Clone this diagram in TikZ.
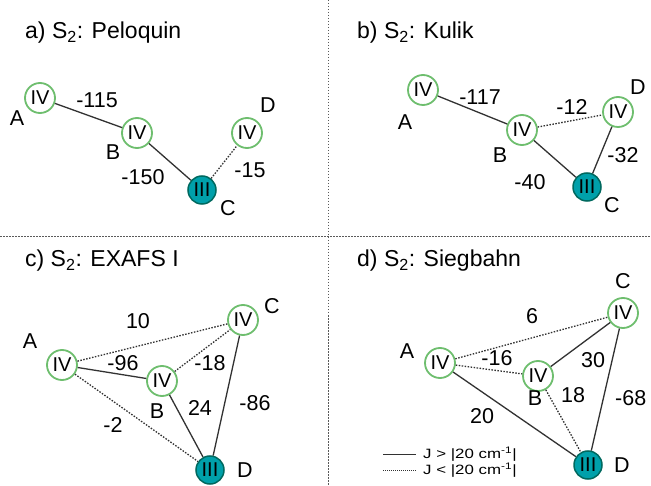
\documentclass[tikz,border=0pt]{standalone}
\usepackage{fontspec}
\setmainfont{Liberation Sans}
\definecolor{ringgreen}{RGB}{110,190,110}
\definecolor{tealfill}{RGB}{0,160,170}
\definecolor{tealdark}{RGB}{0,105,95}
\definecolor{linegray}{RGB}{50,50,50}
\definecolor{sepgray}{RGB}{90,90,90}
\begin{document}
\begin{tikzpicture}[x=1pt,y=-1pt,
  fiv/.style={circle,draw=ringgreen,line width=1.8pt,fill=white,minimum size=30pt,inner sep=0pt,font=\fontsize{20}{22}\selectfont},
  fiii/.style={circle,draw=tealdark,line width=1.5pt,fill=tealfill,minimum size=28pt,inner sep=0pt,font=\fontsize{20}{22}\selectfont},
  lbl/.style={font=\fontsize{21.5}{25}\selectfont,inner sep=0pt},
  ttl/.style={font=\fontsize{23}{27}\selectfont,anchor=west,inner sep=0pt},
  leg/.style={font=\fontsize{13.5}{15}\selectfont,anchor=west,inner sep=0pt},
  strong/.style={line width=1.3pt,draw=linegray},
  weak/.style={line width=1.3pt,draw=linegray,dash pattern=on 1.5pt off 1.5pt},
  sepline/.style={line width=1pt,draw=sepgray,dash pattern=on 1.5pt off 1.5pt}]
\useasboundingbox[fill=white] (0,0) rectangle (651,486);
% separators
\coordinate (vt) at (328,0); \coordinate (vb) at (328,486);
\coordinate (hl) at (0,237); \coordinate (hr) at (651,237);
\draw[sepline] (vt) -- (vb);
\draw[sepline] (hl) -- (hr);

% ---------- panel a ----------
\node[ttl] (ta) at (25,33) {a) S\textsubscript{2}: Peloquin};
\node[fiv] (aA) at (40,98) {IV};
\node[fiv] (aB) at (137,133) {IV};
\node[fiv] (aD) at (247,133) {IV};
\node[fiii] (aC) at (202,190) {III};
\node[lbl] (aAl) at (17,118) {A};
\node[lbl] (aBl) at (113,152) {B};
\node[lbl] (aDl) at (268,105) {D};
\node[lbl] (aCl) at (228,208) {C};
\draw[strong] (aA) -- (aB);
\draw[strong] (aB) -- (aC);
\draw[weak] (aC) -- (aD);
\node[lbl] (aj1) at (97,100) {-115};
\node[lbl] (aj2) at (143,177) {-150};
\node[lbl] (aj3) at (250,170) {-15};

% ---------- panel b ----------
\node[ttl] (tb) at (357,33) {b) S\textsubscript{2}: Kulik};
\node[fiv] (bA) at (423,90) {IV};
\node[fiv] (bB) at (522,130) {IV};
\node[fiv] (bD) at (618,112) {IV};
\node[fiii] (bC) at (587,187) {III};
\node[lbl] (bAl) at (405,122) {A};
\node[lbl] (bBl) at (500,155) {B};
\node[lbl] (bDl) at (638,87) {D};
\node[lbl] (bCl) at (612,205) {C};
\draw[strong] (bA) -- (bB);
\draw[weak] (bB) -- (bD);
\draw[strong] (bB) -- (bC);
\draw[strong] (bD) -- (bC);
\node[lbl] (bj1) at (480,97) {-117};
\node[lbl] (bj2) at (572,107) {-12};
\node[lbl] (bj3) at (623,155) {-32};
\node[lbl] (bj4) at (530,182) {-40};

% ---------- panel c ----------
\node[ttl] (tc) at (25,261) {c) S\textsubscript{2}: EXAFS I};
\node[fiv] (cA) at (62,365) {IV};
\node[fiv] (cB) at (162,381) {IV};
\node[fiv] (cC) at (243,320) {IV};
\node[fiii] (cD) at (210,470) {III};
\node[lbl] (cAl) at (30,341) {A};
\node[lbl] (cBl) at (157,411) {B};
\node[lbl] (cCl) at (272,306) {C};
\node[lbl] (cDl) at (245,470) {D};
\draw[weak] (cA) -- (cC);
\draw[strong] (cA) -- (cB);
\draw[weak] (cB) -- (cC);
\draw[weak] (cA) -- (cD);
\draw[strong] (cB) -- (cD);
\draw[strong] (cC) -- (cD);
\node[lbl] (cj1) at (138,321) {10};
\node[lbl] (cj2) at (123,363) {-96};
\node[lbl] (cj3) at (210,363) {-18};
\node[lbl] (cj4) at (200,408) {24};
\node[lbl] (cj5) at (255,403) {-86};
\node[lbl] (cj6) at (113,425) {-2};

% ---------- panel d ----------
\node[ttl] (td) at (357,261) {d) S\textsubscript{2}: Siegbahn};
\node[fiv] (dA) at (440,363) {IV};
\node[fiv] (dB) at (538,376) {IV};
\node[fiv] (dC) at (623,313) {IV};
\node[fiii] (dD) at (588,465) {III};
\node[lbl] (dAl) at (407,351) {A};
\node[lbl] (dBl) at (535,398) {B};
\node[lbl] (dCl) at (623,281) {C};
\node[lbl] (dDl) at (622,465) {D};
\draw[weak] (dA) -- (dC);
\draw[weak] (dA) -- (dB);
\draw[strong] (dB) -- (dC);
\draw[weak] (dB) -- (dD);
\draw[strong] (dA) -- (dD);
\draw[strong] (dC) -- (dD);
\node[lbl] (dj1) at (532,316) {6};
\node[lbl] (dj2) at (497,358) {-16};
\node[lbl] (dj3) at (593,360) {30};
\node[lbl] (dj4) at (573,395) {18};
\node[lbl,anchor=west] (dj5) at (615,398) {-68};
\node[lbl] (dj6) at (482,416) {20};

% legend
\coordinate (l1a) at (383,454); \coordinate (l1b) at (416,454);
\coordinate (l2a) at (383,470); \coordinate (l2b) at (416,470);
\draw[line width=1pt,draw=linegray] (l1a) -- (l1b);
\draw[line width=1pt,draw=linegray,dash pattern=on 1pt off 1pt] (l2a) -- (l2b);
\node[leg] (lt1) at (423,454) {\scalebox{1.25}[1]{J > |20 cm\textsuperscript{-1}|}};
\node[leg] (lt2) at (423,470) {\scalebox{1.25}[1]{J < |20 cm\textsuperscript{-1}|}};
\end{tikzpicture}
\end{document}
